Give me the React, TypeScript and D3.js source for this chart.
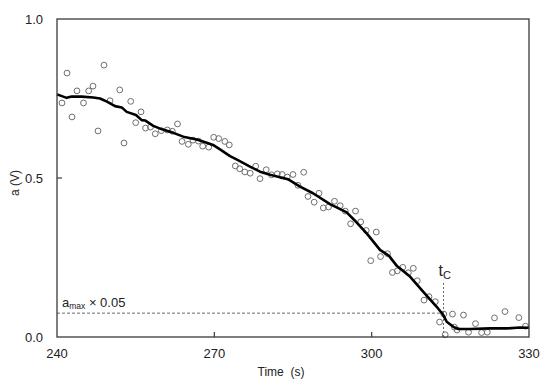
import { useEffect, useRef } from "react";
import * as d3 from "d3";

// raw measurements (time in s, amplitude in V)
const pointTime = [
  240.95, 241.91, 242.86, 243.81, 245.05, 246.04, 246.86, 247.82, 248.96, 250.11,
  251.96, 252.78, 254.05, 255.01, 256.02, 256.88, 257.83, 258.74, 259.89, 261.03,
  261.99, 262.98, 263.84, 265.04, 265.93, 266.98, 267.78, 268.93, 269.88, 270.83,
  272.0, 272.85, 274.0, 274.84, 275.81, 276.84, 277.89, 278.71, 279.89, 280.9,
  282.01, 282.94, 283.91, 285.0, 285.95, 287.04, 287.86, 289.04, 289.96, 290.78,
  291.77, 292.91, 294.0, 294.97, 295.98, 296.92, 297.91, 298.96, 299.82, 300.88,
  301.69, 303.02, 303.96, 304.89, 305.94, 306.99, 307.94, 308.7, 309.98, 310.93,
  312.13, 312.95, 313.75, 314.02, 315.41, 315.76, 316.27, 317.51, 318.47, 319.8,
  320.96, 322.05, 323.42, 325.42, 328.06, 329.33,
];
const pointValue = [
  0.736, 0.83, 0.692, 0.774, 0.736, 0.774, 0.789, 0.648, 0.855, 0.743,
  0.777, 0.61, 0.741, 0.674, 0.708, 0.657, 0.66, 0.639, 0.649, 0.651,
  0.647, 0.67, 0.615, 0.606, 0.619, 0.616, 0.6, 0.597, 0.628, 0.624,
  0.615, 0.604, 0.538, 0.529, 0.519, 0.515, 0.537, 0.498, 0.526, 0.51,
  0.513, 0.511, 0.503, 0.511, 0.477, 0.518, 0.442, 0.424, 0.452, 0.406,
  0.409, 0.427, 0.413, 0.396, 0.356, 0.396, 0.362, 0.335, 0.24, 0.33,
  0.253, 0.262, 0.203, 0.208, 0.219, 0.202, 0.216, 0.177, 0.116, 0.127,
  0.111, 0.047, 0.072, 0.007, 0.072, 0.031, 0.022, 0.069, 0.015, 0.042,
  0.014, 0.015, 0.06, 0.08, 0.061, 0.034,
];

// smoothed curve
const smoothTime = [
  240, 241.85, 242.8, 244.71, 246.92, 248.2, 249.53, 251.06, 252.34, 253.29,
  255.06, 256.15, 256.78, 258.36, 260.02, 262.18, 264.08, 266.64, 268.55, 269.75,
  271.08, 272.99, 274.32, 276.8, 278.71, 280.62, 282.52, 284.1, 286.34, 288.81,
  292.06, 295.24, 297.15, 299.05, 301.59, 303.31, 304.83, 307.31, 309.85, 312.4,
  313.66, 314.31, 315.57, 316.52, 318.75, 322.57, 325.81, 328.29, 330,
];
const smoothValue = [
  0.763, 0.752, 0.756, 0.756, 0.753, 0.75, 0.74, 0.726, 0.722, 0.708,
  0.698, 0.682, 0.681, 0.664, 0.653, 0.642, 0.63, 0.621, 0.611, 0.604,
  0.59, 0.569, 0.558, 0.536, 0.52, 0.51, 0.502, 0.496, 0.473, 0.452,
  0.418, 0.392, 0.36, 0.326, 0.274, 0.255, 0.223, 0.19, 0.142, 0.095,
  0.069, 0.048, 0.032, 0.025, 0.025, 0.027, 0.027, 0.03, 0.029,
];

const xTicks = [240, 270, 300, 330];
const yTicks = [0, 0.5, 1];
const thresholdValue = 0.075; // a_max x 0.05
const tcTime = 313.7;

export default function App() {
  const svgRef = useRef<SVGSVGElement>(null);

  useEffect(() => {
    const width = 550;
    const height = 388;
    const margin = { top: 19, right: 21, bottom: 51, left: 57 };
    const innerW = width - margin.left - margin.right;
    const innerH = height - margin.top - margin.bottom;
    const font = "'Liberation Sans', Arial, sans-serif";

    const svg = d3.select(svgRef.current);
    svg.selectAll("*").remove();
    svg.attr("width", width).attr("height", height);

    const g = svg.append("g")
      .attr("transform", `translate(${margin.left},${margin.top})`);

    const x = d3.scaleLinear().domain([240, 330]).range([0, innerW]);
    const y = d3.scaleLinear().domain([0, 1]).range([innerH, 0]);

    // dashed guides
    g.append("line")
      .attr("x1", 0).attr("x2", x(tcTime))
      .attr("y1", y(thresholdValue)).attr("y2", y(thresholdValue))
      .attr("stroke", "#444").attr("stroke-width", 0.8)
      .attr("stroke-dasharray", "3,2");
    g.append("line")
      .attr("x1", x(tcTime)).attr("x2", x(tcTime))
      .attr("y1", innerH - 54).attr("y2", innerH)
      .attr("stroke", "#444").attr("stroke-width", 0.8)
      .attr("stroke-dasharray", "2,2");

    // raw points
    g.selectAll("circle.pt")
      .data(pointTime.map((t, i) => [t, pointValue[i]]))
      .enter()
      .append("circle")
      .attr("class", "pt")
      .attr("cx", (d) => x(d[0]))
      .attr("cy", (d) => y(d[1]))
      .attr("r", 2.9)
      .attr("fill", "none")
      .attr("stroke", "#6e6e6e")
      .attr("stroke-width", 1);

    // smoothed line
    const line = d3.line<number>()
      .x((d, i) => x(smoothTime[i]))
      .y((d) => y(d));
    g.append("path")
      .datum(smoothValue)
      .attr("d", line)
      .attr("fill", "none")
      .attr("stroke", "#000")
      .attr("stroke-width", 2.6)
      .attr("stroke-linejoin", "round");

    // frame
    g.append("rect")
      .attr("width", innerW).attr("height", innerH)
      .attr("fill", "none")
      .attr("stroke", "#3a3a3a").attr("stroke-width", 1.3);

    // ticks (inward)
    g.selectAll("line.xt")
      .data(xTicks.slice(1, -1))
      .enter().append("line")
      .attr("x1", (d) => x(d)).attr("x2", (d) => x(d))
      .attr("y1", innerH).attr("y2", innerH - 5)
      .attr("stroke", "#3a3a3a").attr("stroke-width", 1.2);
    g.selectAll("line.yt")
      .data(yTicks.slice(1, -1))
      .enter().append("line")
      .attr("x1", 0).attr("x2", 5)
      .attr("y1", (d) => y(d)).attr("y2", (d) => y(d))
      .attr("stroke", "#3a3a3a").attr("stroke-width", 1.2);

    // tick labels
    g.selectAll("text.xl")
      .data(xTicks)
      .enter().append("text")
      .attr("x", (d) => x(d)).attr("y", innerH + 21)
      .attr("text-anchor", "middle")
      .attr("font-family", font).attr("font-size", "13px")
      .attr("fill", "#222")
      .text((d) => d3.format("d")(d));
    g.selectAll("text.yl")
      .data(yTicks)
      .enter().append("text")
      .attr("x", -14).attr("y", (d) => y(d) + 4.5)
      .attr("text-anchor", "end")
      .attr("font-family", font).attr("font-size", "13px")
      .attr("fill", "#222")
      .text((d) => d3.format(".1f")(d));

    // axis titles
    svg.append("text")
      .attr("x", 281).attr("y", 376)
      .attr("text-anchor", "middle")
      .attr("font-family", font).attr("font-size", "12px")
      .attr("fill", "#222")
      .attr("xml:space", "preserve")
      .text("Time  (s)");
    svg.append("text")
      .attr("transform", "translate(19,183) rotate(-90)")
      .attr("text-anchor", "middle")
      .attr("font-family", font).attr("font-size", "12px")
      .attr("fill", "#222")
      .text("a (V)");

    // annotations
    const amax = g.append("text")
      .attr("x", 5).attr("y", y(thresholdValue) - 6)
      .attr("font-family", font).attr("font-size", "13px")
      .attr("fill", "#222");
    amax.append("tspan").text("a");
    amax.append("tspan").attr("font-size", "8.5px").attr("dy", 2).text("max");
    amax.append("tspan").attr("dy", -2).text(" \u00d7 0.05");

    const tc = g.append("text")
      .attr("x", x(tcTime) - 5).attr("y", innerH - 61)
      .attr("font-family", font).attr("font-size", "16px")
      .attr("fill", "#222");
    tc.append("tspan").text("t");
    tc.append("tspan").attr("font-size", "11px").attr("dy", 3).text("C");
  }, []);

  return (
    <svg ref={svgRef} style={{ position: "absolute", left: 0, top: 0, background: "#fff" }}></svg>
  );
}
